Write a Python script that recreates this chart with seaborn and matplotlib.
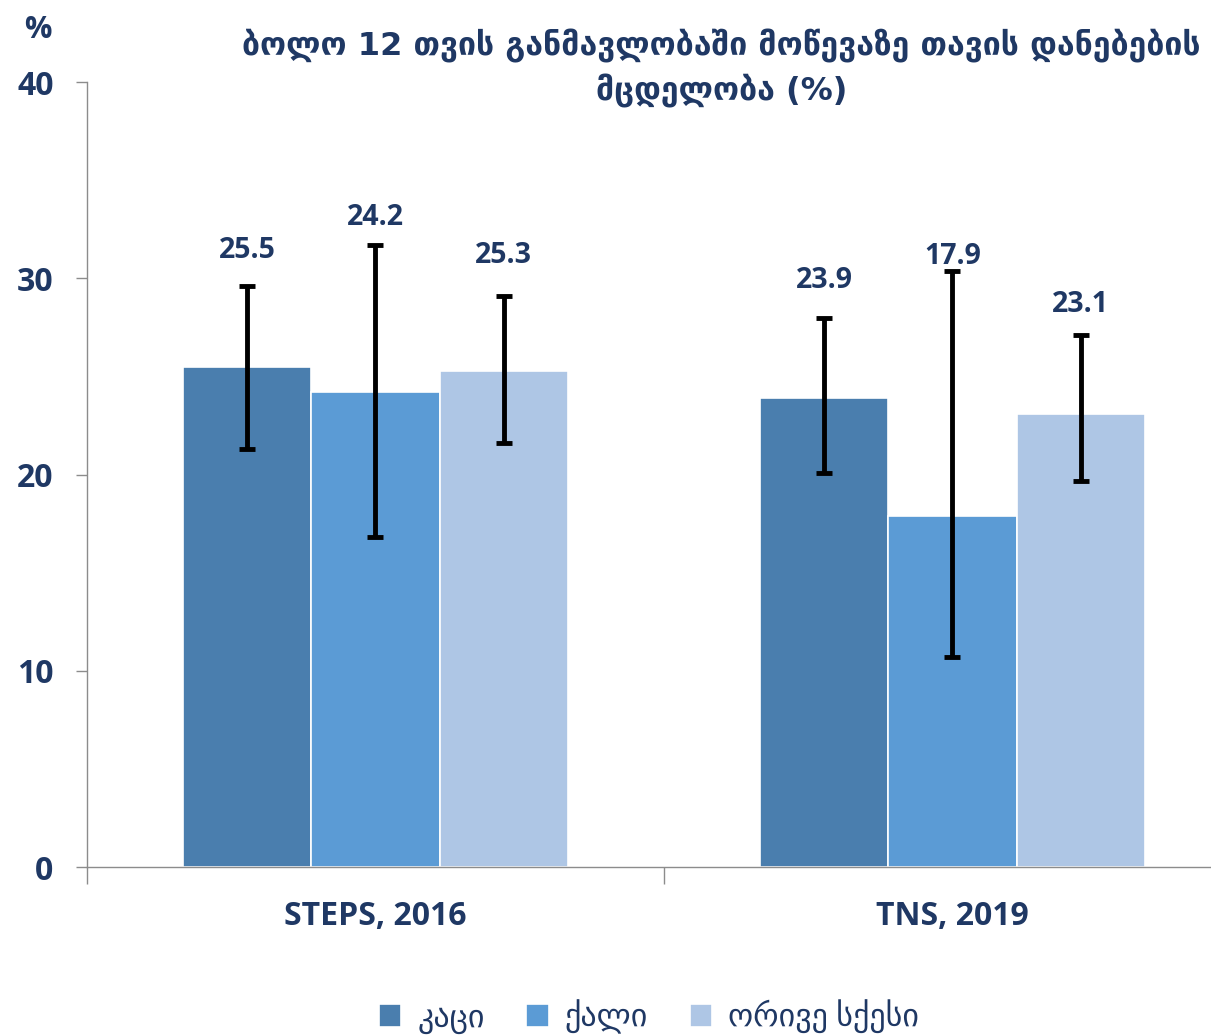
import numpy as np
import pandas as pd
import matplotlib
matplotlib.use("Agg")
import matplotlib.pyplot as plt
import seaborn as sns
from matplotlib.ticker import FixedLocator

surveys = ["STEPS, 2016", "TNS, 2019"]
sexes = ["კაცი", "ქალი", "ორივე სქესი"]
values = [[25.5, 24.2, 25.3],
          [23.9, 17.9, 23.1]]
ci_low = [[21.3, 16.8, 21.6],
          [20.1, 10.7, 19.7]]
ci_high = [[29.6, 31.7, 29.1],
           [28.0, 30.4, 27.1]]

title = "ბოლო 12 თვის განმავლობაში მოწევაზე თავის დანებების\nმცდელობა (%)"
colors = ["#4a7eae", "#5b9bd5", "#aec6e5"]
navy = "#1f3864"
# label offsets (points above upper CI), per sex then survey
label_off = [[26, 27], [20, 10], [29, 22]]

sns.set_style("white")
plt.rcParams["font.family"] = ["Open Sans", "DejaVu Sans"]

df = pd.DataFrame({
    "survey": np.repeat(surveys, len(sexes)),
    "sex": sexes * len(surveys),
    "value": np.array(values).ravel(),
})

fig = plt.figure(figsize=(12.11, 10.36), dpi=100)
ax = fig.add_axes([0.0718, 0.163, 0.9282, 0.7577])

sns.barplot(data=df, x="survey", y="value", hue="sex", hue_order=sexes,
            palette=colors, width=0.666, errorbar=None, edgecolor="white",
            linewidth=1.2, saturation=1, ax=ax)

bar_conts = list(ax.containers)
for i, cont in enumerate(bar_conts):
    for j, bar in enumerate(cont):
        x = bar.get_x() + bar.get_width() / 2
        v = values[j][i]
        lo, hi = ci_low[j][i], ci_high[j][i]
        ax.errorbar(x, v, yerr=[[v - lo], [hi - v]], fmt="none", ecolor="black",
                    elinewidth=3.5, capsize=6, capthick=3.5, zorder=5)
        ax.annotate(f"{v}", (x, hi), xytext=(0, label_off[i][j]),
                    textcoords="offset points", ha="center", va="center",
                    fontsize=20.5, fontweight="bold", color=navy)

ax.set_ylim(0, 40)
ax.set_xlim(-0.5, 1.448)
ax.set_yticks([0, 10, 20, 30, 40])
ax.set_xlabel("")
ax.set_ylabel("")
for s in ["top", "right"]:
    ax.spines[s].set_visible(False)
for s in ["left", "bottom"]:
    ax.spines[s].set_color("#8c8c8c")
    ax.spines[s].set_linewidth(1)

ax.tick_params(axis="y", length=8, width=1, color="#8c8c8c", left=True,
               labelsize=23, labelcolor=navy, pad=16)
ax.tick_params(axis="x", which="major", length=0, labelsize=23,
               labelcolor=navy, pad=24)
ax.xaxis.set_minor_locator(FixedLocator([-0.5, 0.5]))
ax.tick_params(axis="x", which="minor", length=12, width=1, color="#8c8c8c",
               bottom=True)
for lab in ax.get_xticklabels() + ax.get_yticklabels():
    lab.set_fontweight("bold")

ax.text(-0.044, 1.066, "%", transform=ax.transAxes, fontsize=22,
        fontweight="bold", color=navy, ha="center", va="center")
fig.text(0.596, 0.934, title, ha="center", va="center", fontsize=23,
         fontweight="bold", color=navy, linespacing=1.4,
         family=["DejaVu Sans"])

sns.move_legend(ax, "lower center", bbox_to_anchor=(0.5, -0.25), ncol=3,
                frameon=False, title=None, fontsize=23, handlelength=0.7,
                handleheight=0.7, handletextpad=0.5, columnspacing=1.3)
for t in ax.get_legend().get_texts():
    t.set_color(navy)

fig.savefig("out.png", dpi=100)
